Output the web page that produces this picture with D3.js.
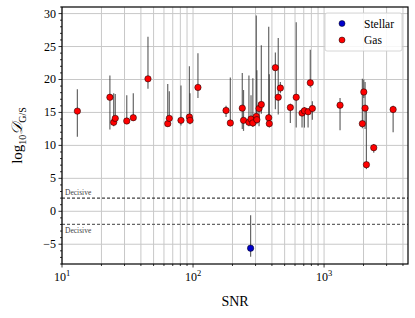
<!DOCTYPE html>
<html>
<head>
<meta charset="utf-8">
<script src="https://cdn.jsdelivr.net/npm/d3@7"></script>
<style>
  body { margin: 0; background: #fff; }
</style>
</head>
<body>
<div id="chart"></div>
<script>
// gas points: SNR, log10 D, lower / upper end of the error bar
const gasSNR = [13.1, 23.2, 24.8, 25.5, 31.2, 35.0, 45.3, 64.1, 65.9, 80.9, 93.8, 94.8, 109,
  178.6, 192.6, 237.6, 242.8, 267, 277, 286, 304, 307, 319, 332, 378, 382, 425, 447, 464,
  553, 613, 679, 708, 755, 785, 814, 1324, 1960, 2010, 2056, 2104, 2394, 3365];
const gasD = [15.2, 17.3, 13.5, 14.1, 13.7, 14.2, 20.1, 13.3, 14.1, 13.8, 14.3, 13.8, 18.8,
  15.3, 13.4, 15.65, 13.8, 13.5, 14.0, 13.4, 14.4, 13.9, 15.6, 16.2, 14.2, 13.3, 21.8, 17.3, 18.7,
  15.75, 17.3, 14.9, 15.25, 15.1, 19.5, 15.6, 16.1, 13.3, 18.1, 15.65, 7.07, 9.65, 15.45];
const gasLo = [11.3, 12.4, 12.9, 13.4, 13.3, 13.7, 18.6, 12.8, 13.5, 13.0, 13.6, 13.2, 17.2,
  14.3, 12.9, 12.5, 12.2, 12.9, 13.3, 12.8, 13.6, 13.2, 12.9, 14.8, 13.6, 12.7, 15.5, 14.7, 17.9,
  13.4, 12.7, 12.7, 12.7, 12.7, 18.8, 13.9, 12.3, 12.6, 17.2, 12.5, 6.4, 8.9, 12.0];
const gasHi = [18.5, 20.6, 17.9, 17.8, 17.6, 17.9, 26.5, 19.3, 18.2, 19.1, 22.0, 17.9, 24.0,
  16.0, 20.3, 21.0, 18.4, 20.6, 17.6, 20.2, 29.7, 21.4, 16.5, 25.2, 28.0, 20.8, 24.1, 26.3, 19.6,
  16.3, 28.7, 15.5, 15.8, 15.6, 24.5, 16.7, 17.2, 20.1, 20.0, 19.6, 15.5, 10.2, 16.0];

const stellarSNR = [275];
const stellarD = [-5.6];
const stellarLo = [-6.9];
const stellarHi = [-0.6];

const yTicks = [-5, 0, 5, 10, 15, 20, 25, 30];
const xTicks = [10, 100, 1000];
const decisive = [2, -2];

const W = 415, H = 318;
const margin = {top: 7, right: 7, bottom: 54, left: 62};
const width = W - margin.left - margin.right;
const height = H - margin.top - margin.bottom;

const svg = d3.select("#chart").append("svg")
    .attr("width", W)
    .attr("height", H)
    .attr("font-family", "'Liberation Serif', 'DejaVu Serif', serif");
const g = svg.append("g")
    .attr("transform", `translate(${margin.left},${margin.top})`);

const x = d3.scaleLog().domain([10, 4370]).range([0, width]);
const y = d3.scaleLinear().domain([-8, 31]).range([height, 0]);

// minor + major vertical grid lines
const xMinor = [];
for (let dec = 10; dec < 10000; dec *= 10) {
    for (let k = 1; k < 10; k++) {
        const v = dec * k;
        if (v >= 10 && v <= 4370) xMinor.push(v);
    }
}

g.append("g").selectAll("line").data(xMinor).join("line")
    .attr("x1", d => x(d)).attr("x2", d => x(d))
    .attr("y1", 0).attr("y2", height)
    .attr("stroke", "#c8c8c8").attr("stroke-width", 1);

g.append("g").selectAll("line").data(yTicks).join("line")
    .attr("x1", 0).attr("x2", width)
    .attr("y1", d => y(d)).attr("y2", d => y(d))
    .attr("stroke", "#c8c8c8").attr("stroke-width", 1);

// decisive thresholds
g.append("line")
    .attr("x1", 0).attr("x2", width)
    .attr("y1", y(decisive[0])).attr("y2", y(decisive[0]))
    .attr("stroke", "#111").attr("stroke-width", 1).attr("stroke-dasharray", "3,2");
g.append("line")
    .attr("x1", 0).attr("x2", width)
    .attr("y1", y(decisive[1])).attr("y2", y(decisive[1]))
    .attr("stroke", "#666").attr("stroke-width", 1.3).attr("stroke-dasharray", "3,2");

g.append("text")
    .attr("x", 3).attr("y", y(decisive[0]) - 3)
    .attr("font-size", 7.5).attr("fill", "#444")
    .text("Decisive");
g.append("text")
    .attr("x", 3).attr("y", y(decisive[1]) + 9)
    .attr("font-size", 7.5).attr("fill", "#444")
    .text("Decisive");

// error bars
const gas = gasSNR.map((s, i) => ({snr: s, d: gasD[i], lo: gasLo[i], hi: gasHi[i]}));
const stellar = stellarSNR.map((s, i) => ({snr: s, d: stellarD[i], lo: stellarLo[i], hi: stellarHi[i]}));

g.append("g").selectAll("line").data(gas.concat(stellar)).join("line")
    .attr("x1", d => x(d.snr)).attr("x2", d => x(d.snr))
    .attr("y1", d => y(d.lo)).attr("y2", d => y(d.hi))
    .attr("stroke", "#333").attr("stroke-opacity", 0.75).attr("stroke-width", 1.2);

// markers
g.append("g").selectAll("circle").data(stellar).join("circle")
    .attr("cx", d => x(d.snr)).attr("cy", d => y(d.d))
    .attr("r", 3.2).attr("fill", "#0000cc")
    .attr("stroke", "#000").attr("stroke-width", 0.5);

g.append("g").selectAll("circle").data(gas).join("circle")
    .attr("cx", d => x(d.snr)).attr("cy", d => y(d.d))
    .attr("r", 3.2).attr("fill", "#ff0000")
    .attr("stroke", "#000").attr("stroke-width", 0.5);

// spines
g.append("rect")
    .attr("width", width).attr("height", height)
    .attr("fill", "none").attr("stroke", "#000").attr("stroke-width", 1.2);

// y ticks
const yMinor = d3.range(-8, 32, 1);
g.append("g").selectAll("line").data(yMinor).join("line")
    .attr("x1", d => yTicks.includes(d) ? -3.5 : -2).attr("x2", 0)
    .attr("y1", d => y(d)).attr("y2", d => y(d))
    .attr("stroke", "#000").attr("stroke-width", 0.8);

g.append("g").selectAll("text").data(yTicks).join("text")
    .attr("x", -6).attr("y", d => y(d) + 4)
    .attr("text-anchor", "end").attr("font-size", 12)
    .text(d => d < 0 ? "\u2212" + Math.abs(d) : d);

// x ticks
g.append("g").selectAll("line").data(xMinor).join("line")
    .attr("x1", d => x(d)).attr("x2", d => x(d))
    .attr("y1", height)
    .attr("y2", d => height + (xTicks.includes(d) ? 3.5 : 2))
    .attr("stroke", "#000").attr("stroke-width", 0.8);

const xl = g.append("g").selectAll("text").data(xTicks).join("text")
    .attr("x", d => x(d)).attr("y", height + 17)
    .attr("text-anchor", "middle").attr("font-size", 12);
xl.append("tspan").text("10");
xl.append("tspan").attr("dy", -5).attr("font-size", 8.5)
    .text(d => Math.round(Math.log10(d)));

// axis titles
svg.append("text")
    .attr("x", margin.left + width / 2).attr("y", 306)
    .attr("text-anchor", "middle").attr("font-size", 14)
    .text("SNR");

const yl = svg.append("text")
    .attr("transform", `translate(22,${margin.top + height / 2}) rotate(-90)`)
    .attr("text-anchor", "middle").attr("font-size", 15);
yl.append("tspan").text("log");
yl.append("tspan").attr("font-size", 10).attr("dy", 4).text("10");
yl.append("tspan").attr("dy", -4).attr("font-style", "italic")
    .attr("font-family", "'DejaVu Serif', serif").text("\u{1D49F}");
yl.append("tspan").attr("font-size", 10).attr("dy", 4).text("G/S");

// legend
const lg = g.append("g").attr("transform", `translate(${width - 83},6)`);
lg.append("rect")
    .attr("width", 77).attr("height", 38).attr("rx", 2)
    .attr("fill", "#fff").attr("fill-opacity", 0.85)
    .attr("stroke", "#ccc").attr("stroke-width", 0.8);
const entries = [{name: "Stellar", color: "#0000cc"}, {name: "Gas", color: "#ff0000"}];
const le = lg.selectAll("g").data(entries).join("g")
    .attr("transform", (d, i) => `translate(0,${10.5 + i * 16.5})`);
le.append("circle").attr("cx", 17).attr("cy", 0).attr("r", 3)
    .attr("fill", d => d.color).attr("stroke", "#000").attr("stroke-width", 0.5);
le.append("text").attr("x", 39).attr("y", 4).attr("font-size", 11.5)
    .text(d => d.name);
</script>
</body>
</html>
